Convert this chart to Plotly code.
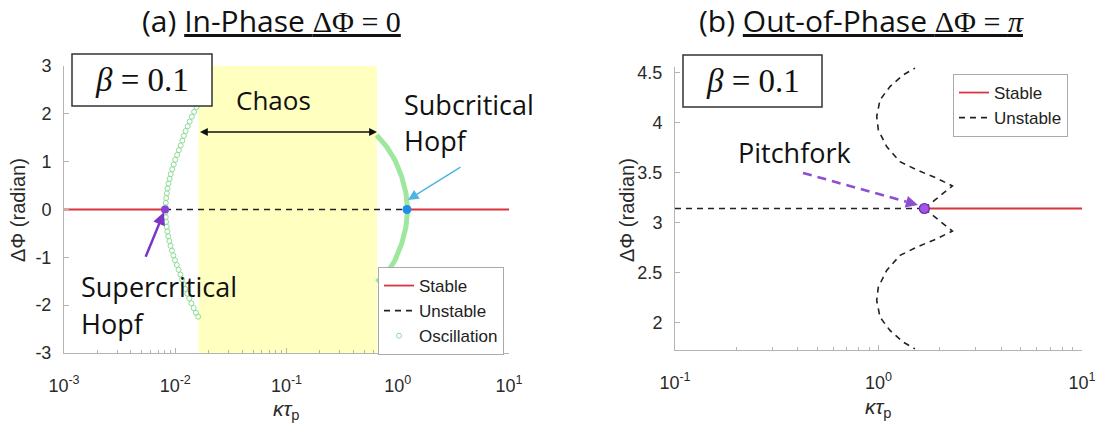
import numpy as np
import plotly.graph_objects as go

W, H = 1102, 438
PI = 3.14159

# ---------------- Panel (a): in-phase ----------------
a_x_range = [1e-3, 10]
a_y_range = [-3, 3]
a_stable_x = [1e-3, 0.00809, None, 1.21, 10]
a_stable_y = [0, 0, None, 0, 0]
a_unstable_x = [0.00809, 1.21]
a_unstable_y = [0, 0]
a_chaos_x = [0.01618, 0.650]
a_chaos_arrow_y = 1.62
a_osc_x = [0.01628, 0.01551, 0.01478, 0.01409, 0.01348, 0.01293, 0.01238, 0.01196,
           0.01158, 0.01119, 0.01078, 0.01039, 0.00999, 0.00968, 0.00939, 0.00911,
           0.00890, 0.00868, 0.00852, 0.00841, 0.00829, 0.00822, 0.00816,
           0.00817, 0.00821, 0.00827, 0.00838, 0.00849, 0.00865, 0.00885, 0.00907,
           0.00933, 0.00961, 0.00993, 0.01032, 0.01071, 0.01112, 0.01150, 0.01188,
           0.01230, 0.01283, 0.01338, 0.01397, 0.01463, 0.01534, 0.01606]
a_osc_y = [2.24, 2.14, 2.04, 1.94, 1.84, 1.74, 1.64, 1.54, 1.44, 1.34, 1.24, 1.14,
           1.04, 0.94, 0.84, 0.74, 0.64, 0.54, 0.44, 0.34, 0.24, 0.14, 0.04,
           -0.06, -0.16, -0.26, -0.36, -0.46, -0.56, -0.66, -0.76, -0.86, -0.96,
           -1.06, -1.16, -1.26, -1.36, -1.46, -1.56, -1.66, -1.76, -1.86, -1.96,
           -2.06, -2.16, -2.24]
a_osc2_x = [0.647, 0.796, 0.944, 1.086, 1.186, 1.228, 1.186, 1.086, 0.944, 0.796, 0.647]
a_osc2_y = [1.554, 1.31, 1.031, 0.682, 0.335, 0.0, -0.364, -0.711, -1.061, -1.339, -1.515]
a_super_hopf = (0.00809, 0.0)
a_sub_hopf = (1.21, 0.0)
a_super_arrow = [(0.00535, -1.02), (0.0079, -0.06)]   # tail, head
a_sub_arrow = [(3.78, 0.906), (1.236, 0.2)]
a_xticks = [1e-3, 1e-2, 1e-1, 1e0, 1e1]
a_xticktext = ["10<sup>-3</sup>", "10<sup>-2</sup>", "10<sup>-1</sup>", "10<sup>0</sup>", "10<sup>1</sup>"]
a_yticks = [-3, -2, -1, 0, 1, 2, 3]
a_yticktext = ["-3", "-2", "-1", "0", "1", "2", "3"]

# ---------------- Panel (b): out-of-phase ----------------
b_x_range = [0.1, 10]
b_y_range = [1.7279, 4.5553]
b_pitch = (1.68, PI)
b_stable_x = [1.68, 10]
b_stable_y = [PI, PI]
b_unstable_x = [0.1, 1.68]
b_unstable_y = [PI, PI]
b_upper_x = [1.68, 2.306, 1.932, 1.541, 1.275, 1.097, 0.998, 0.980, 1.017, 1.139, 1.324, 1.51]
b_upper_y = [PI, 3.367, 3.444, 3.527, 3.61, 3.76, 3.927, 4.06, 4.227, 4.36, 4.477, 4.544]
b_lower_x = [1.68, 2.306, 1.932, 1.541, 1.275, 1.097, 0.998, 0.980, 1.017, 1.139, 1.324, 1.51]
b_lower_y = [PI, 2.916, 2.839, 2.756, 2.673, 2.523, 2.356, 2.223, 2.056, 1.923, 1.806, 1.739]
b_pitch_arrow = [(0.4256, 3.497), (1.563, 3.177)]
b_xticks = [0.1, 1, 10]
b_xticktext = ["10<sup>-1</sup>", "10<sup>0</sup>", "10<sup>1</sup>"]
b_yticks = [2, 2.5, 3, 3.5, 4, 4.5]
b_yticktext = ["2", "2.5", "3", "3.5", "4", "4.5"]

RED = "#d8343f"
GREEN_PT = "rgb(140,222,150)"
GREEN_BAND = "rgba(140,228,140,0.85)"
PURPLE = "#8a3fd6"
BLUE = "#1f8fe6"
AX = "#b4b4b4"
TXT = "#2a2a2a"
SANS = "Liberation Sans"
OPEN = "Open Sans"
SERIF = "Liberation Serif"
DASH = "6px,5px"

def px(x):
    return x / W

def py(y):
    return 1 - y / H

fig = go.Figure()

# chaos shading
fig.add_trace(go.Scatter(
    x=[a_chaos_x[0], a_chaos_x[1], a_chaos_x[1], a_chaos_x[0], a_chaos_x[0]],
    y=[a_y_range[0], a_y_range[0], a_y_range[1], a_y_range[1], a_y_range[0]],
    fill="toself", fillcolor="rgba(255,255,60,0.33)", mode="lines",
    line=dict(width=0), showlegend=False, hoverinfo="skip", xaxis="x", yaxis="y"))

fig.add_trace(go.Scatter(x=a_stable_x, y=a_stable_y, mode="lines", name="Stable",
                         line=dict(color=RED, width=1.8), legend="legend", xaxis="x", yaxis="y"))
fig.add_trace(go.Scatter(x=a_unstable_x, y=a_unstable_y, mode="lines", name="Unstable",
                         line=dict(color="#222", width=1.6, dash=DASH), legend="legend", xaxis="x", yaxis="y"))
fig.add_trace(go.Scatter(x=a_osc_x, y=a_osc_y, mode="markers", name="Oscillation",
                         marker=dict(symbol="circle-open", size=5, color=GREEN_PT, line=dict(width=1)),
                         legend="legend", xaxis="x", yaxis="y"))
fig.add_trace(go.Scatter(x=a_osc2_x, y=a_osc2_y, mode="lines", showlegend=False,
                         line=dict(color=GREEN_BAND, width=5), xaxis="x", yaxis="y"))
fig.add_trace(go.Scatter(x=[a_super_hopf[0]], y=[a_super_hopf[1]], mode="markers", showlegend=False,
                         marker=dict(size=8, color=PURPLE), xaxis="x", yaxis="y"))
fig.add_trace(go.Scatter(x=[a_sub_hopf[0]], y=[a_sub_hopf[1]], mode="markers", showlegend=False,
                         marker=dict(size=9, color=BLUE), xaxis="x", yaxis="y"))

# panel b
fig.add_trace(go.Scatter(x=b_stable_x, y=b_stable_y, mode="lines", name="Stable",
                         line=dict(color=RED, width=1.8), legend="legend2", xaxis="x2", yaxis="y2"))
fig.add_trace(go.Scatter(x=b_unstable_x, y=b_unstable_y, mode="lines", name="Unstable",
                         line=dict(color="#222", width=1.6, dash=DASH), legend="legend2", xaxis="x2", yaxis="y2"))
fig.add_trace(go.Scatter(x=b_upper_x, y=b_upper_y, mode="lines", showlegend=False,
                         line=dict(color="#222", width=1.6, dash=DASH), xaxis="x2", yaxis="y2"))
fig.add_trace(go.Scatter(x=b_lower_x, y=b_lower_y, mode="lines", showlegend=False,
                         line=dict(color="#222", width=1.6, dash=DASH), xaxis="x2", yaxis="y2"))
# pitchfork dashed arrow shaft
(ptx, pty), (phx, phy) = b_pitch_arrow
l_t, l_h = np.log10(ptx), np.log10(phx)
mid_x = 10 ** (l_t + 0.9 * (l_h - l_t))
mid_y = pty + 0.9 * (phy - pty)
fig.add_trace(go.Scatter(x=[ptx, mid_x], y=[pty, mid_y], mode="lines", showlegend=False,
                         line=dict(color="#8d4fd0", width=2.6, dash="9px,6px"), xaxis="x2", yaxis="y2"))
fig.add_trace(go.Scatter(x=[b_pitch[0]], y=[b_pitch[1]], mode="markers", showlegend=False,
                         marker=dict(size=10, color="#a255e6", line=dict(color="#6a2aa8", width=1.2)),
                         xaxis="x2", yaxis="y2"))

annotations = []

def arrow(tail, head, xref, yref, color, width, **kw):
    d = dict(x=np.log10(head[0]), y=head[1], ax=np.log10(tail[0]), ay=tail[1],
             xref=xref, yref=yref, axref=xref, ayref=yref, text="", showarrow=True,
             arrowhead=2, arrowsize=1, arrowwidth=width, arrowcolor=color)
    d.update(kw)
    annotations.append(d)

arrow(a_super_arrow[0], a_super_arrow[1], "x", "y", "#7a35c6", 2.5)
arrow(a_sub_arrow[0], a_sub_arrow[1], "x", "y", "#4fb4e0", 1.5, arrowsize=1.4)
arrow((a_chaos_x[0], a_chaos_arrow_y), (a_chaos_x[1], a_chaos_arrow_y), "x", "y", "#111", 1.3,
      arrowside="end+start", startarrowhead=2, arrowsize=1.2, startarrowsize=1.2)
arrow((mid_x, mid_y), (phx, phy), "x2", "y2", "#8d4fd0", 2.2, arrowsize=1.1)

def text(t, x, y, size=27, xanchor="left", family=OPEN, **kw):
    d = dict(text=t, x=px(x), y=py(y), xref="paper", yref="paper", showarrow=False,
             xanchor=xanchor, yanchor="middle", font=dict(family=family, size=size, color="#111"))
    d.update(kw)
    annotations.append(d)

text("Chaos", 273, 100, size=26, xanchor="center")
text("Subcritical", 402, 104)
text("Hopf", 402, 141)
text("Supercritical", 79, 286)
text("Hopf", 79, 323)
text("Pitchfork", 736, 152)

# beta boxes
text("<i>β</i>\u2005=\u20050.1", 142, 80, size=33, xanchor="center", family=SERIF)
text("<i>β</i>\u2005=\u20050.1", 752.5, 81, size=33, xanchor="center", family=SERIF)

# titles
text("(a) <u>In-Phase <span style='font-family:Liberation Serif'>ΔΦ = 0</span></u>", 271, 21,
     size=30, xanchor="center")
text("(b) <u>Out-of-Phase <span style='font-family:Liberation Serif'>ΔΦ = <i>π</i></span></u>", 861, 21,
     size=30, xanchor="center")

# axis titles
for xc in (18, 627):
    annotations.append(dict(text="ΔΦ (radian)", x=px(xc), y=py(210), xref="paper", yref="paper",
                            showarrow=False, textangle=-90, xanchor="center", yanchor="middle",
                            font=dict(family=SANS, size=20, color=TXT)))
for xc, yc in ((286, 410), (878, 408)):
    annotations.append(dict(text="<i>κτ</i><sub>p</sub>", x=px(xc), y=py(yc), xref="paper", yref="paper",
                            showarrow=False, xanchor="center", yanchor="middle",
                            font=dict(family=SANS, size=21, color=TXT)))

shapes = [
    dict(type="rect", xref="paper", yref="paper", x0=px(72), x1=px(212), y0=py(54), y1=py(106),
         line=dict(color="#333", width=1.5), fillcolor="white", layer="above"),
    dict(type="rect", xref="paper", yref="paper", x0=px(683), x1=px(822), y0=py(55), y1=py(107),
         line=dict(color="#333", width=1.5), fillcolor="white", layer="above"),
]

a_minor = [m * 10.0 ** e for e in range(-3, 1) for m in range(2, 10)]
b_minor = [m * 10.0 ** e for e in range(-1, 1) for m in range(2, 10)]

axis_common = dict(showline=True, linecolor=AX, linewidth=1, mirror=False, showgrid=False,
                   zeroline=False, ticks="inside", ticklen=5, tickcolor=AX, automargin=False,
                   tickfont=dict(family=SANS, size=18, color=TXT))

fig.update_layout(
    width=W, height=H, margin=dict(l=0, r=0, t=0, b=0, autoexpand=False),
    plot_bgcolor="white", paper_bgcolor="white",
    xaxis=dict(type="log", range=[np.log10(a_x_range[0]), np.log10(a_x_range[1])],
               domain=[px(64), px(509)], anchor="y", tickmode="array", tickvals=a_xticks,
               ticktext=a_xticktext, ticklabelstandoff=16,
               minor=dict(ticks="inside", ticklen=3, tickcolor=AX, tickmode="array", tickvals=a_minor),
               **axis_common),
    yaxis=dict(range=a_y_range, domain=[py(353), py(66)], anchor="x", tickmode="array",
               tickvals=a_yticks, ticktext=a_yticktext, ticklabelstandoff=8, **axis_common),
    xaxis2=dict(type="log", range=[np.log10(b_x_range[0]), np.log10(b_x_range[1])],
                domain=[px(675), px(1082)], anchor="y2", tickmode="array", tickvals=b_xticks,
                ticktext=b_xticktext, ticklabelstandoff=16,
                minor=dict(ticks="inside", ticklen=3, tickcolor=AX, tickmode="array", tickvals=b_minor),
                **axis_common),
    yaxis2=dict(range=b_y_range, domain=[py(350), py(67)], anchor="x2", tickmode="array",
                tickvals=b_yticks, ticktext=b_yticktext, ticklabelstandoff=8, **axis_common),
    legend=dict(x=px(378), y=py(267), xanchor="left", yanchor="top", bordercolor="#aaa",
                borderwidth=1, bgcolor="white", font=dict(family=SANS, size=17, color="#222"),
                itemwidth=30, tracegroupgap=0),
    legend2=dict(x=px(953), y=py(74), xanchor="left", yanchor="top", bordercolor="#aaa",
                 borderwidth=1, bgcolor="white", font=dict(family=SANS, size=17, color="#222"),
                 itemwidth=30, tracegroupgap=0),
    annotations=annotations, shapes=shapes, showlegend=True,
)

fig.write_html("out.html", config={"displayModeBar": False},
               post_script="document.body.style.margin='0';")
